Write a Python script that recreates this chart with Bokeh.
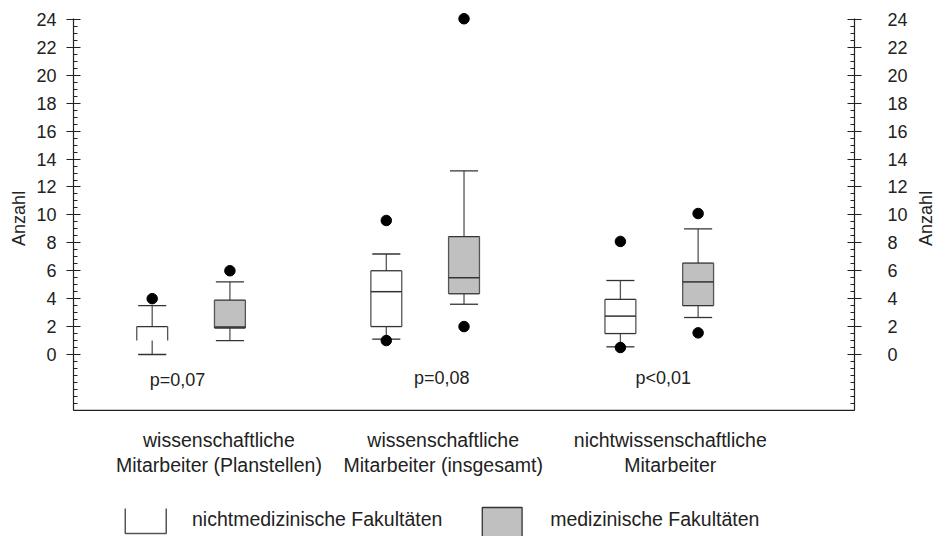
import math
from bokeh.plotting import figure
from bokeh.layouts import row
from bokeh.models import LinearAxis, FixedTicker, Range1d, Span
from bokeh.embed import file_html
from bokeh.resources import INLINE
from bokeh.core.properties import value

# ---------------- data ----------------
categories = ["wissenschaftliche\nMitarbeiter (Planstellen)",
              "wissenschaftliche\nMitarbeiter (insgesamt)",
              "nichtwissenschaftliche\nMitarbeiter"]
p_values = ["p=0,07", "p=0,08", "p<0,01"]
series = ["nichtmedizinische Fakultäten", "medizinische Fakultäten"]
y_title = "Anzahl"

# nichtmedizinische Fakultäten (white boxes)
nm_low = [0.0, 1.1, 0.55]
nm_q1 = [1.0, 2.0, 1.5]
nm_med = [1.0, 4.5, 2.75]
nm_q3 = [2.0, 6.0, 3.95]
nm_high = [3.5, 7.2, 5.3]
nm_out = [[4.0], [9.6, 1.0], [8.1, 0.5]]

# medizinische Fakultäten (grey boxes)
m_low = [1.0, 3.6, 2.65]
m_q1 = [1.9, 4.35, 3.5]
m_med = [1.97, 5.5, 5.2]
m_q3 = [3.9, 8.45, 6.55]
m_high = [5.2, 13.15, 9.0]
m_out = [[6.0], [24.05, 2.0], [10.1, 1.55]]

y_ticks = list(range(0, 25, 2))
y_minor = [i * 0.5 for i in range(-8, 49)]

# ---------------- layout / style ----------------
FONT = "Liberation Sans"
TXT = "#222222"
LINE = "#333333"
WHISK = "#555555"
GREY = "#c0c0c0"
W_TOTAL, H = 934, 536
STRIP_L, STRIP_R = 33, 24
W = W_TOTAL - STRIP_L - STRIP_R          # main figure width
FRAME_L, FRAME_R = 71, 855                # frame edges on the page
BL = FRAME_L - STRIP_L
BR = (W_TOTAL - STRIP_R) - FRAME_R
BT = 11
PX_PER_UNIT = 13.96
ZERO_PX = 354.0
Y_TOP = (ZERO_PX - BT) / PX_PER_UNIT
Y_BOT = (ZERO_PX - H) / PX_PER_UNIT
GPX = 235.0
FIRST_PX = 150.0
X0 = 1 - (FIRST_PX - FRAME_L) / GPX
X1 = 1 + (FRAME_R - FIRST_PX) / GPX
yr = Range1d(Y_BOT, Y_TOP)

p = figure(width=W, height=H, output_backend="svg", toolbar_location=None,
           x_range=Range1d(X0, X1), y_range=yr,
           x_axis_location=None, y_axis_location=None,
           min_border_left=BL, min_border_right=BR, min_border_top=BT,
           min_border_bottom=0)
p.outline_line_color = None
p.xgrid.visible = False
p.ygrid.visible = False
p.background_fill_color = "white"


def style_axis(ax, side):
    ax.ticker = FixedTicker(ticks=y_ticks, minor_ticks=y_minor)
    ax.bounds = (-4, 24.1)
    ax.axis_line_color = "#222222"
    ax.axis_line_width = 1.2
    ax.major_tick_line_color = "#222222"
    ax.minor_tick_line_color = "#222222"
    ax.major_tick_in = 7
    ax.major_tick_out = 7
    ax.minor_tick_in = 4
    ax.minor_tick_out = 0
    ax.major_label_text_font = FONT
    ax.major_label_text_font_size = "18px"
    ax.major_label_text_color = TXT
    ax.major_label_standoff = 10 if side == "left" else 26


left_ax = LinearAxis()
style_axis(left_ax, "left")
p.add_layout(left_ax, "left")
right_ax = LinearAxis()
style_axis(right_ax, "right")
p.add_layout(right_ax, "right")

p.add_layout(Span(location=-4, dimension="width", line_color="#222222", line_width=1.2))

HW = 0.066   # half box width
CW = 0.06    # half cap width
OFF = 0.332  # offset of grey box inside a group


def draw_series(xs, low, q1, med, q3, high, out, fill, closed):
    l = [x - HW for x in xs]
    r = [x + HW for x in xs]
    p.quad(left=l, right=r, bottom=q1, top=q3, fill_color=fill, line_color=None)
    # whiskers
    p.segment(x0=xs, y0=q3, x1=xs, y1=high, line_color=WHISK, line_width=1.3)
    p.segment(x0=xs, y0=q1, x1=xs, y1=low, line_color=WHISK, line_width=1.3)
    p.segment(x0=[x - CW for x in xs], y0=high, x1=[x + CW for x in xs], y1=high,
              line_color=LINE, line_width=1.3)
    p.segment(x0=[x - CW for x in xs], y0=low, x1=[x + CW for x in xs], y1=low,
              line_color=LINE, line_width=1.3)
    # box edges
    p.segment(x0=l, y0=q3, x1=r, y1=q3, line_color=LINE, line_width=1.3)
    p.segment(x0=l, y0=q1, x1=l, y1=q3, line_color=WHISK, line_width=1.3)
    p.segment(x0=r, y0=q1, x1=r, y1=q3, line_color=WHISK, line_width=1.3)
    bl = [a for a, c in zip(l, closed) if c]
    br = [a for a, c in zip(r, closed) if c]
    bq = [a for a, c in zip(q1, closed) if c]
    bm = [a for a, c in zip(med, closed) if c]
    p.segment(x0=bl, y0=bq, x1=br, y1=bq, line_color=LINE, line_width=1.3)
    p.segment(x0=bl, y0=bm, x1=br, y1=bm, line_color=LINE, line_width=1.5)
    ox, oy = [], []
    for x, vals in zip(xs, out):
        for v in vals:
            ox.append(x)
            oy.append(v)
    p.scatter(ox, oy, size=10.5, color="black")


groups = [1, 2, 3]
draw_series([g for g in groups], nm_low, nm_q1, nm_med, nm_q3, nm_high, nm_out,
            "white", [False, True, True])
draw_series([g + OFF for g in groups], m_low, m_q1, m_med, m_q3, m_high, m_out,
            GREY, [True, True, True])

# p-values
p_off = [0.108, 0.237, 0.183]
p.text(x=[g + o for g, o in zip(groups, p_off)], y=[-1.85, -1.65, -1.65], text=p_values,
       text_align="center", text_baseline="middle", text_font=value(FONT),
       text_font_size="18px", text_color=TXT)

# category labels
lab_off = [0.285, 0.243, 0.213]
p.text(x=[g + o for g, o in zip(groups, lab_off)], y=[-7.02] * 3, text=categories,
       text_align="center", text_baseline="middle", text_font=value(FONT),
       text_font_size="19.5px", text_color=TXT, text_line_height=1.1)

# legend
p.multi_line(xs=[[0.885, 0.885, 1.06, 1.06]], ys=[[-11.03, -12.82, -12.82, -11.03]],
             line_color=WHISK, line_width=1.5)
p.quad(left=[2.41], right=[2.58], top=[-10.96], bottom=[-14.5], fill_color=GREY,
       line_color=LINE, line_width=1.3)
p.text(x=[1.17, 2.70], y=[-11.75, -11.75], text=series, text_align="left",
       text_baseline="middle", text_font=value(FONT), text_font_size="19.5px",
       text_color=TXT)


# side strips carrying the rotated axis titles
TITLE_Y = 9.75


def title_strip(width, cx):
    s = figure(width=width, height=H, output_backend="svg", toolbar_location=None,
               x_range=Range1d(0, width), y_range=yr,
               x_axis_location=None, y_axis_location=None,
               min_border_left=0, min_border_right=0, min_border_top=BT,
               min_border_bottom=0)
    s.outline_line_color = None
    s.xgrid.visible = False
    s.ygrid.visible = False
    s.text(x=[cx], y=[TITLE_Y], text=[y_title], angle=math.pi / 2,
           text_align="center", text_baseline="middle", text_font=value(FONT),
           text_font_size="18px", text_color=TXT)
    return s


left_strip = title_strip(STRIP_L, 18.5)
right_strip = title_strip(STRIP_R, 925 - (W_TOTAL - STRIP_R))

layout = row(left_strip, p, right_strip, spacing=0)
open("out.html", "w").write(file_html(layout, INLINE))
